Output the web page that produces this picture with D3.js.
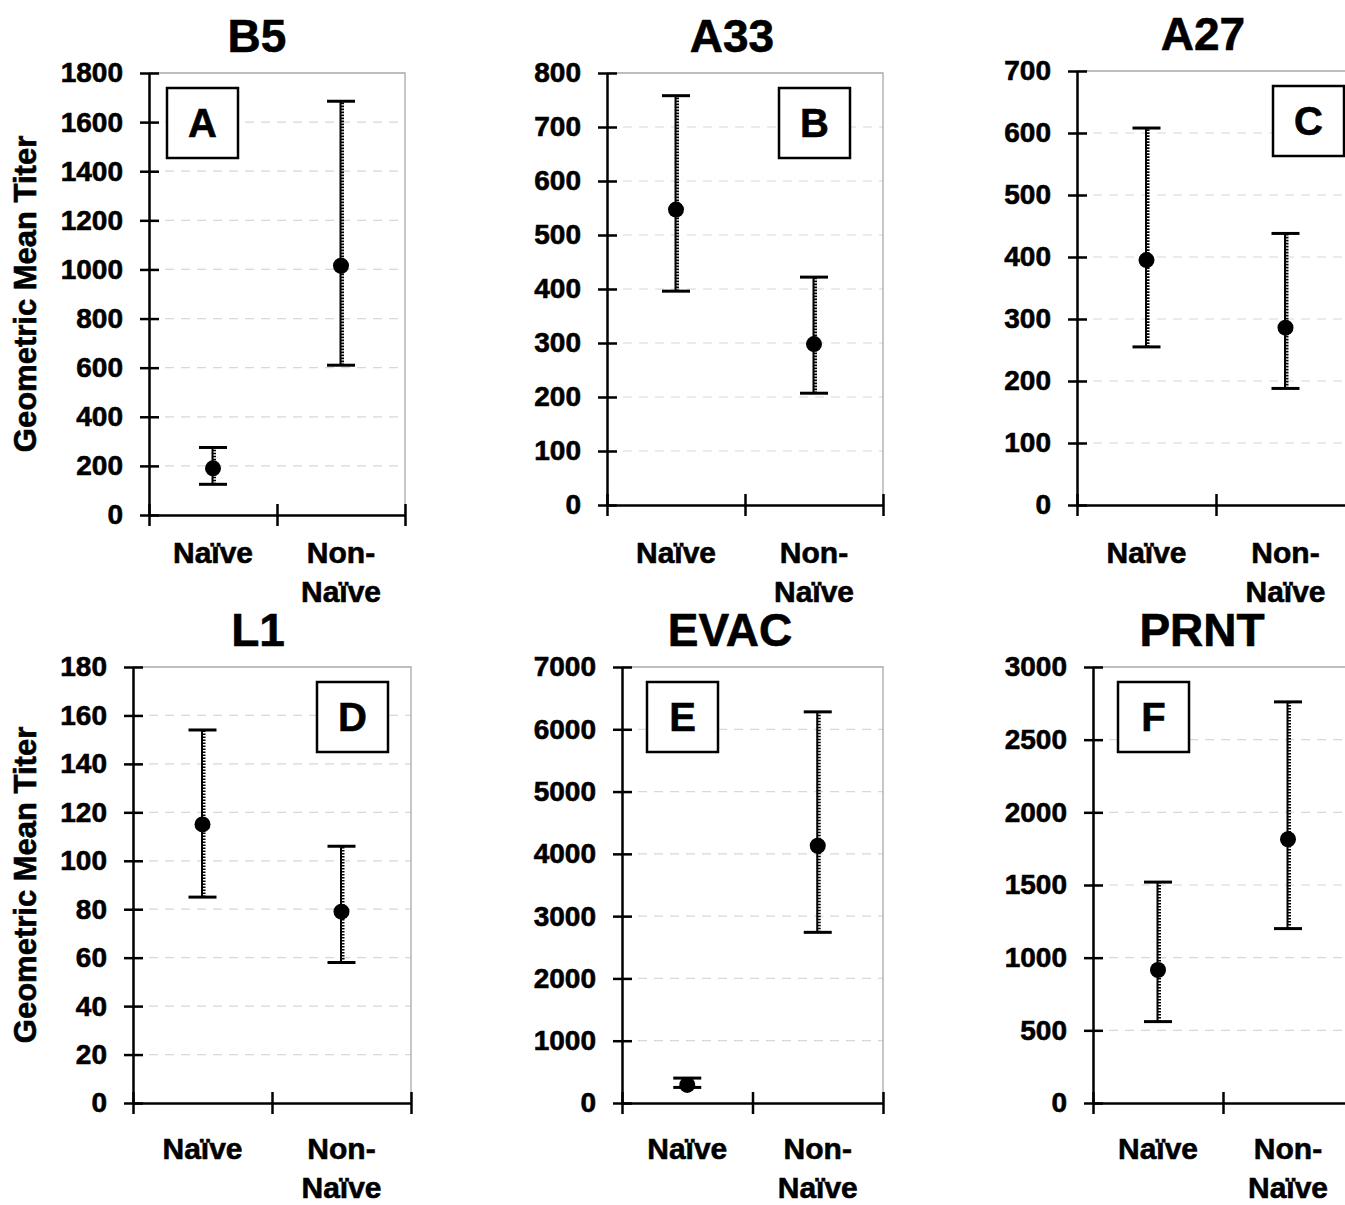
<!DOCTYPE html>
<html>
<head>
<meta charset="utf-8">
<script src="https://cdn.jsdelivr.net/npm/d3@7"></script>
<style>
body { margin: 0; background: #fff; }
svg text { font-family: Arial, "Liberation Sans", sans-serif; font-weight: bold; fill: #000; stroke: #000; stroke-width: 0.6px; }
</style>
</head>
<body>
<svg width="1345" height="1205"></svg>
<script>
// panel data
const titles = ['B5', 'A33', 'A27', 'L1', 'EVAC', 'PRNT'];
const letters = ['A', 'B', 'C', 'D', 'E', 'F'];
const categories = ['Naïve', 'Non-Naïve'];
const yMax = [1800, 800, 700, 180, 7000, 3000];
const yStep = [200, 100, 100, 20, 1000, 500];
const gmt = [[190, 1015], [547, 298], [395, 286], [115, 79], [290, 4130], [915, 1815]];
const lower = [[125, 610], [396, 207], [255, 188], [85, 58], [250, 2740], [560, 1200]];
const upper = [[275, 1685], [758, 422], [608, 438], [154, 106], [400, 6280], [1520, 2760]];
const yLabel = 'Geometric Mean Titer';

// where each panel sits on the page
const layout = [
    { x: 149, w: 256, top: 73, zero: 515, tx: 257, box: 18, labY: 563, ylab: true },
    { x: 607, w: 276, top: 73, zero: 505, tx: 732, box: 172, labY: 563, ylab: false },
    { x: 1077, w: 278, top: 71, zero: 505, tx: 1203, box: 196, labY: 563, ylab: false },
    { x: 133, w: 278, top: 667, zero: 1103, tx: 258, box: 184, labY: 1159, ylab: true },
    { x: 622, w: 261, top: 667, zero: 1103, tx: 730, box: 25, labY: 1159, ylab: false },
    { x: 1093, w: 260, top: 667, zero: 1103, tx: 1202, box: 25, labY: 1159, ylab: false }
];

const svg = d3.select('svg');

titles.forEach((title, i) => {
    const L = layout[i];
    const h = L.zero - L.top;
    const g = svg.append('g').attr('transform', `translate(${L.x},${L.top})`);

    const yScale = d3.scaleLinear().domain([0, yMax[i]]).range([h, 0]);
    const xScale = d3.scaleBand().domain(categories).range([0, L.w]);
    const xEdge = d3.scaleLinear().domain([0, 2]).range([0, L.w]);
    const ticks = d3.range(0, yMax[i] + yStep[i] / 2, yStep[i]);

    // dashed gridlines
    g.selectAll('.grid')
        .data(ticks.filter(v => v > 0 && v < yMax[i]))
        .join('line')
        .attr('class', 'grid')
        .attr('x1', 0).attr('x2', L.w)
        .attr('y1', d => yScale(d)).attr('y2', d => yScale(d))
        .attr('stroke', '#d8d8d8')
        .attr('stroke-width', 1.2)
        .attr('stroke-dasharray', '9,7');

    // light frame top + right
    g.append('path')
        .attr('d', `M0,0H${L.w}V${h}`)
        .attr('fill', 'none')
        .attr('stroke', '#a8a8a8')
        .attr('stroke-width', 1.3);

    // y axis
    const yAxisG = g.append('g')
        .call(d3.axisLeft(yScale).tickValues(ticks).tickSize(9).tickSizeOuter(0).tickPadding(17).tickFormat(d3.format('d')));
    yAxisG.select('.domain').attr('stroke', '#000').attr('stroke-width', 2.5);
    yAxisG.selectAll('.tick line').attr('x1', 10).attr('stroke', '#000').attr('stroke-width', 2.5);
    yAxisG.selectAll('.tick text').style('font-size', '28px').attr('font-family', null);

    // x axis
    const xAxisG = g.append('g')
        .attr('transform', `translate(0,${h})`)
        .call(d3.axisBottom(xEdge).tickValues([0, 1, 2]).tickSize(11).tickSizeOuter(0).tickFormat(''));
    xAxisG.select('.domain').attr('stroke', '#000').attr('stroke-width', 2.5);
    xAxisG.selectAll('.tick line').attr('y1', -11).attr('stroke', '#000').attr('stroke-width', 2.5);

    // category labels
    const cat = g.selectAll('.cat')
        .data(categories)
        .join('text')
        .attr('class', 'cat')
        .attr('text-anchor', 'middle')
        .style('font-size', '30px');
    cat.each(function (d) {
        const cut = d.indexOf('-');
        const parts = cut > 0 ? [d.slice(0, cut + 1), d.slice(cut + 1)] : [d];
        const cx = xScale(d) + xScale.bandwidth() / 2;
        d3.select(this).selectAll('tspan')
            .data(parts)
            .join('tspan')
            .attr('x', cx)
            .attr('y', (p, k) => L.labY - L.top + k * 39)
            .text(p => p);
    });

    // error bars
    const bars = g.selectAll('.bar')
        .data(categories.map((c, j) => ({ c, m: gmt[i][j], lo: lower[i][j], hi: upper[i][j] })))
        .join('g')
        .attr('class', 'bar')
        .attr('transform', d => `translate(${xScale(d.c) + xScale.bandwidth() / 2},0)`);
    bars.append('line')
        .attr('x1', -0.5).attr('x2', -0.5)
        .attr('y1', d => yScale(d.lo)).attr('y2', d => yScale(d.hi))
        .attr('stroke', '#000').attr('stroke-width', 2);
    bars.append('line')
        .attr('x1', 1).attr('x2', 1)
        .attr('y1', d => yScale(d.lo)).attr('y2', d => yScale(d.hi))
        .attr('stroke', '#000').attr('stroke-width', 4)
        .attr('stroke-dasharray', '1.6,1.4');
    bars.selectAll('.cap')
        .data(d => [d.lo, d.hi])
        .join('line')
        .attr('class', 'cap')
        .attr('x1', -14).attr('x2', 14)
        .attr('y1', v => yScale(v)).attr('y2', v => yScale(v))
        .attr('stroke', '#000').attr('stroke-width', 3);
    bars.append('circle')
        .attr('cy', d => yScale(d.m))
        .attr('r', 8)
        .attr('fill', '#000');

    // panel letter box
    g.append('rect')
        .attr('x', L.box).attr('y', 15)
        .attr('width', 71).attr('height', 70)
        .attr('fill', '#fff').attr('stroke', '#000').attr('stroke-width', 2.5);
    g.append('text')
        .attr('x', L.box + 35.5).attr('y', 64)
        .attr('text-anchor', 'middle')
        .style('font-size', '40px')
        .text(letters[i]);

    // title
    svg.append('text')
        .attr('x', L.tx).attr('y', L.top - 21)
        .attr('text-anchor', 'middle')
        .style('font-size', '46px')
        .text(title);

    if (L.ylab) {
        svg.append('text')
            .attr('transform', `translate(36,${(L.top + L.zero) / 2}) rotate(-90)`)
            .attr('text-anchor', 'middle')
            .style('font-size', '31px')
            .text(yLabel);
    }
});
</script>
</body>
</html>
